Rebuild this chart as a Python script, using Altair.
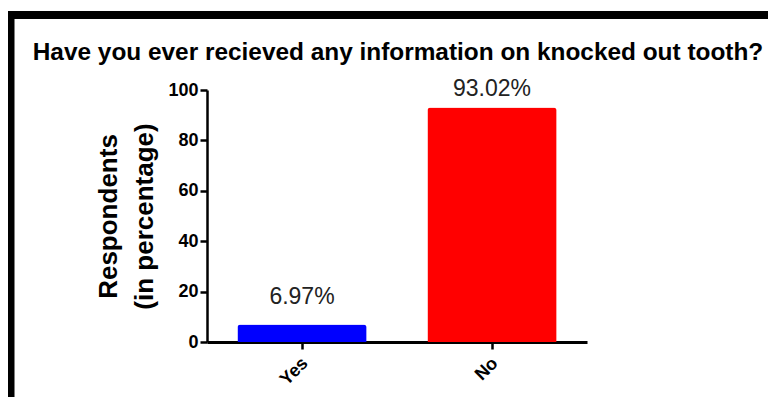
import altair as alt
import pandas as pd

categories = ["Yes", "No"]
values = [6.97, 93.02]
value_labels = ["6.97%", "93.02%"]
bar_colors = ["#0000FF", "#FF0000"]
y_ticks = [0, 20, 40, 60, 80, 100]
chart_title = ["Have you ever recieved any information on knocked out tooth?"]

df = pd.DataFrame({"answer": categories, "pct": values, "label": value_labels})

FONT = "Liberation Sans, Arial, Helvetica, sans-serif"

base = alt.Chart(df)

x_enc = alt.X(
    "answer:N",
    sort=categories,
    scale=alt.Scale(paddingInner=0.32, paddingOuter=0.16),
    axis=alt.Axis(
        title=None,
        labelAngle=-45,
        labelFont=FONT,
        labelFontSize=18,
        labelFontWeight="bold",
        labelColor="black",
        labelPadding=5,
        labelOffset=-3,
        tickSize=7,
        tickWidth=2.5,
        tickColor="black",
        domainWidth=3,
        domainColor="black",
    ),
)

y_enc = alt.Y(
    "pct:Q",
    scale=alt.Scale(domain=[0, 100], nice=False),
    axis=alt.Axis(
        values=y_ticks,
        grid=False,
        title=["Respondents", "(in percentage)"],
        titleFont=FONT,
        titleFontSize=26,
        titleFontWeight="bold",
        titleColor="black",
        titleAngle=-90,
        titleBaseline="alphabetic",
        titleAlign="center",
        titleLineHeight=36,
        titleX=-91,
        titleY=126,
        labelFont=FONT,
        labelFontSize=18,
        labelFontWeight="bold",
        labelColor="black",
        labelPadding=2,
        tickSize=7,
        tickWidth=2.5,
        tickColor="black",
        domainWidth=2.5,
        domainColor="black",
    ),
)

bars = base.mark_bar(cornerRadiusTopLeft=3, cornerRadiusTopRight=3).encode(
    x=x_enc,
    y=y_enc,
    color=alt.Color(
        "answer:N",
        scale=alt.Scale(domain=categories, range=bar_colors),
        legend=None,
    ),
)

text_no = base.transform_filter(alt.datum.answer == "No").mark_text(
    font=FONT, fontSize=23, color="#222222", baseline="alphabetic", dy=-12
).encode(x=alt.X("answer:N", sort=categories), y="pct:Q", text="label:N")

text_yes = base.transform_filter(alt.datum.answer == "Yes").mark_text(
    font=FONT, fontSize=23, color="#222222", baseline="alphabetic", dy=-20
).encode(x=alt.X("answer:N", sort=categories), y="pct:Q", text="label:N")

frame = alt.Chart(alt.Data(values=[{"f": 1}])).mark_rect(
    filled=False, stroke="black", strokeWidth=8
).encode(
    x=alt.value(-196.5), x2=alt.value(589), y=alt.value(-75), y2=alt.value(341)
)

title_text = alt.Chart(pd.DataFrame({"t": chart_title})).mark_text(
    font=FONT, fontSize=24.4, fontWeight="bold", color="black",
    align="center", baseline="alphabetic"
).encode(x=alt.value(191), y=alt.value(-30), text="t:N")

chart = (
    alt.layer(frame, title_text, bars, text_no, text_yes)
    .properties(
        width=380,
        height=252,
        autosize="none",
        background="white",
        padding={"left": 199, "top": 82, "right": 181, "bottom": 55},
    )
    .configure_view(stroke=None)
)

chart.save("out.html", embed_options={"renderer": "svg", "actions": False})
